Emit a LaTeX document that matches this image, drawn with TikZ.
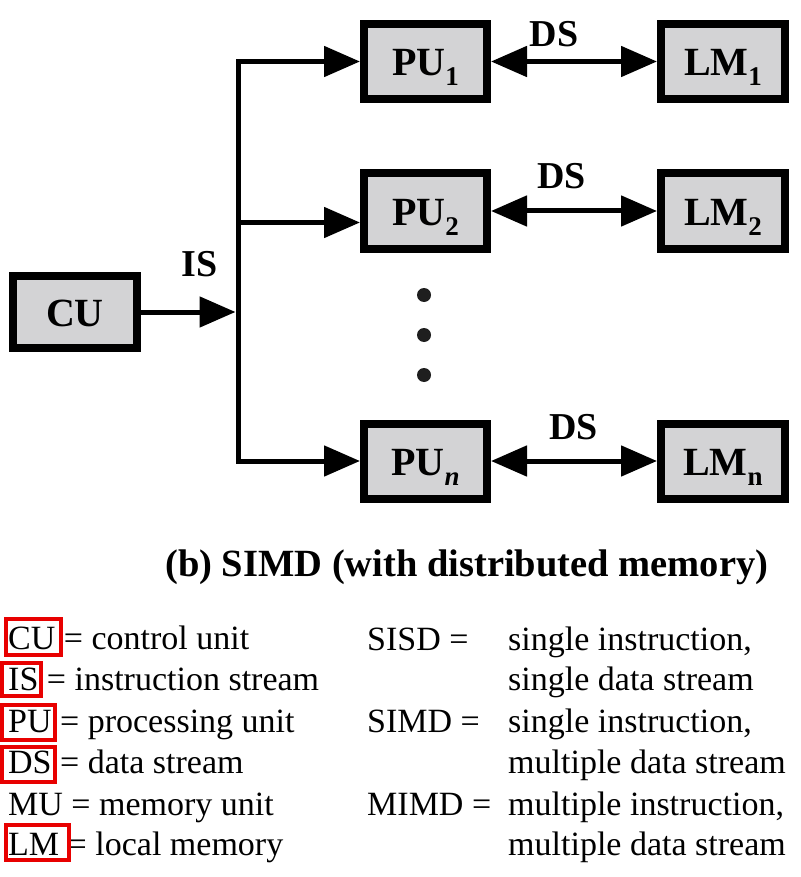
\documentclass[tikz,border=0pt]{standalone}
\usepackage{fontspec}
\setmainfont{LiberationSerif}[Extension=.ttf,UprightFont=*-Regular,BoldFont=*-Bold,ItalicFont=*-Italic,BoldItalicFont=*-BoldItalic]
\usetikzlibrary{arrows.meta}
\definecolor{boxgray}{RGB}{211,211,213}
\definecolor{hlred}{RGB}{232,0,0}
\definecolor{dotc}{RGB}{30,30,30}
\newcommand\lowsub[1]{\raisebox{-10pt}{\fontsize{27}{27}\selectfont #1}}
\begin{document}
\begin{tikzpicture}[x=1pt,y=-1pt,
  >={Triangle[length=36pt,width=30pt]},
  unit/.style={draw=black,fill=boxgray,line width=8pt,minimum width=123pt,minimum height=75pt,
    inner sep=0pt,text height=29pt,text depth=0pt,font=\fontsize{40}{40}\selectfont\bfseries},
  wire/.style={line width=5pt,line join=miter},
  lbl/.style={inner sep=0pt,font=\fontsize{38}{38}\selectfont\bfseries},
  legend/.style={inner sep=0pt,anchor=base west,font=\fontsize{34}{34}\selectfont},
  hl/.style={draw=hlred,line width=4.5pt},
  dot/.style={circle,fill=dotc,inner sep=0pt,minimum size=14pt}]
\useasboundingbox (0,0) rectangle (800,877);

% units
\node[unit,minimum width=124pt,minimum height=72pt] (CU) at (75,312) {CU};
\node[unit] (PU1) at (425.5,61.5) {PU\lowsub{1}};
\node[unit] (PU2) at (425.5,211) {PU\lowsub{2}};
\node[unit] (PUn) at (425.5,461) {PU\lowsub{\itshape n}};
\node[unit,minimum width=124pt] (LM1) at (723,61.5) {LM\lowsub{1}};
\node[unit,minimum width=124pt] (LM2) at (723,211) {LM\lowsub{2}};
\node[unit,minimum width=124pt] (LMn) at (723,461) {LM\lowsub{n}};

% instruction stream bus
\coordinate (bus) at (238,312);
\draw[wire,->] (CU.east) -- ([xshift=-2.5pt]bus);
\draw[wire,<->] (PU1.west) -- (PU1.west -| bus) -- (PUn.west -| bus) -- (PUn.west);
\draw[wire,->] ([yshift=-11.5pt]PU2.west -| bus) -- ([yshift=-11.5pt]PU2.west);

% data streams
\draw[wire,<->] (PU1.east) -- (LM1.west);
\draw[wire,<->] (PU2.east) -- (LM2.west);
\draw[wire,<->] (PUn.east) -- (LMn.west);

% labels
\node[lbl] (IS) at (199.5,264) {IS};
\node[lbl] (DS1) at (554,34) {DS};
\node[lbl] (DS2) at (561.5,176) {DS};
\node[lbl] (DSn) at (573.5,427.5) {DS};

% dots
\node[dot] (d1) at (424,295) {};
\node[dot] (d2) at (424,335) {};
\node[dot] (d3) at (424,375) {};

% caption
\node[inner sep=0pt,anchor=base west,font=\fontsize{38.5}{40}\selectfont\bfseries] (cap) at (165,576) {(b) SIMD (with distributed memory)};

% legend left
\node[legend] (lcu) at (8,649) {CU = control unit};
\node[legend] (lis) at (8,690) {IS = instruction stream};
\node[legend] (lpu) at (8,732) {PU = processing unit};
\node[legend] (lds) at (8,773) {DS = data stream};
\node[legend] (lmu) at (8,815) {MU = memory unit};
\node[legend] (llm) at (8,855) {LM = local memory};

% legend right
\node[legend] (sisd) at (367,650) {SISD =};
\node[legend] (sisd1) at (508,650) {single instruction,};
\node[legend] (sisd2) at (508,690) {single data stream};
\node[legend] (simd) at (367,732) {SIMD =};
\node[legend] (simd1) at (508,732) {single instruction,};
\node[legend] (simd2) at (508,773) {multiple data stream};
\node[legend] (mimd) at (367,815) {MIMD =};
\node[legend] (mimd1) at (508,815) {multiple instruction,};
\node[legend] (mimd2) at (508,855) {multiple data stream};

% red highlights
\draw[hl] (6,619) rectangle (61,655);
\draw[hl] (2,663) rectangle (41,696);
\draw[hl] (2,705) rectangle (55,740);
\draw[hl] (2,747) rectangle (55,782);
\draw[hl] (6,825) rectangle (69,860);
\end{tikzpicture}
\end{document}
